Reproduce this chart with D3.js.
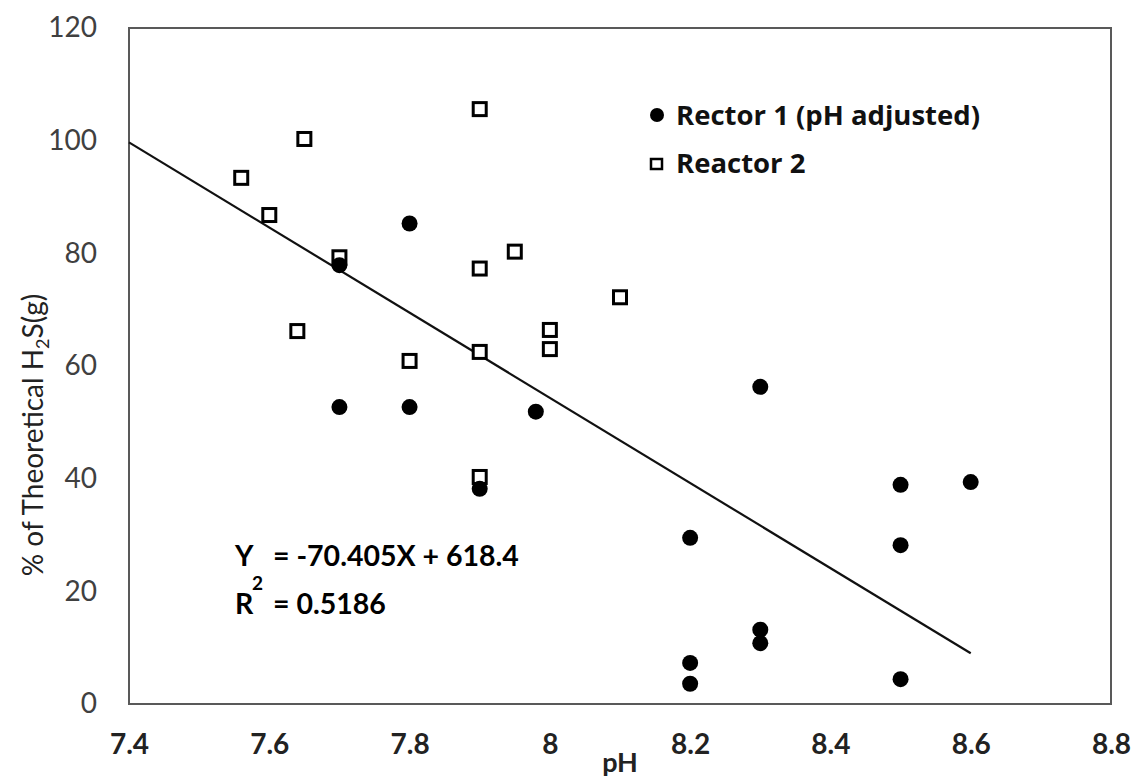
<!DOCTYPE html>
<html>
<head>
<meta charset="utf-8">
<script src="https://cdn.jsdelivr.net/npm/d3@7"></script>
<style>
  body { margin: 0; background: #fff; }
  svg { display: block; font-family: Lato, "Open Sans", sans-serif; }
</style>
</head>
<body>
<div id="chart"></div>
<script>
// data
const r1X = [7.7, 7.8, 7.7, 7.8, 7.98, 7.9, 8.3, 8.5, 8.6, 8.2, 8.5, 8.3, 8.3, 8.2, 8.2, 8.5]
const r1Y = [77.9, 85.3, 52.7, 52.7, 51.9, 38.2, 56.3, 38.9, 39.4, 29.5, 28.2, 13.2, 10.8, 7.3, 3.6, 4.4]
const r2X = [7.56, 7.6, 7.65, 7.7, 7.64, 7.8, 7.9, 7.9, 7.9, 7.9, 7.95, 8.0, 8.0, 8.1]
const r2Y = [93.4, 86.8, 100.3, 79.3, 66.2, 60.9, 105.6, 77.3, 62.5, 40.3, 80.3, 66.4, 63.0, 72.2]
const trendX = [7.4, 8.6]
const trendY = [99.7, 9.0]
const xTicks = [7.4, 7.6, 7.8, 8, 8.2, 8.4, 8.6, 8.8]
const xTickLabels = ["7.4", "7.6", "7.8", "8", "8.2", "8.4", "8.6", "8.8"]
const yTicks = [0, 20, 40, 60, 80, 100, 120]
const seriesNames = ["Rector 1 (pH adjusted)", "Reactor 2"]

const width = 1135
const height = 778
const margin = {top: 28, right: 24, bottom: 74, left: 129}
const w = width - margin.left - margin.right
const h = height - margin.top - margin.bottom

const svg = d3.select("div#chart").append("svg").attr("width", width).attr("height", height)
const g = svg.append("g").attr("transform", `translate(${margin.left}, ${margin.top})`)

const x = d3.scaleLinear().domain([7.4, 8.8]).range([0, w])
const y = d3.scaleLinear().domain([0, 120]).range([h, 0])

// axes (no tick marks, labels only)
const yAxis = d3.axisLeft(y).tickValues(yTicks).tickSize(0).tickPadding(32)
const yAxisGroup = g.append("g").call(yAxis)
yAxisGroup.select(".domain").remove()
yAxisGroup.selectAll("text").attr("font-size", 28).attr("fill", "#404040").attr("font-family", "Lato")

const xAxis = d3.axisBottom(x).tickValues(xTicks).tickFormat((d, i) => xTickLabels[i]).tickSize(0).tickPadding(30)
const xAxisGroup = g.append("g").attr("transform", `translate(0, ${h})`).call(xAxis)
xAxisGroup.select(".domain").remove()
xAxisGroup.selectAll("text").attr("font-size", 28).attr("font-weight", "bold").attr("fill", "#222").attr("font-family", "Lato")

// frame
g.append("rect").attr("width", w).attr("height", h)
  .attr("fill", "none").attr("stroke", "#595959").attr("stroke-width", 2)

// axis titles
svg.append("text")
  .attr("x", margin.left + w / 2).attr("y", 772)
  .attr("text-anchor", "middle").attr("font-size", 27).attr("font-weight", "bold").attr("fill", "#222")
  .text("pH")

const yTitle = svg.append("text")
  .attr("transform", "translate(43, 435) rotate(-90)")
  .attr("text-anchor", "middle").attr("font-size", 28).attr("fill", "#222")
yTitle.append("tspan").text("% of Theoretical H")
yTitle.append("tspan").attr("font-size", 18).attr("dy", 6).text("2")
yTitle.append("tspan").attr("dy", -6).text("S(g)")

// trend line
const line = d3.line().x(d => x(d[0])).y(d => y(d[1]))
g.append("path").datum(d3.zip(trendX, trendY)).attr("d", line)
  .attr("fill", "none").attr("stroke", "#111").attr("stroke-width", 2.2)

// Reactor 2: open squares
const sq = 13
g.append("g").selectAll("rect").data(d3.zip(r2X, r2Y)).join("rect")
  .attr("x", d => x(d[0]) - sq / 2).attr("y", d => y(d[1]) - sq / 2)
  .attr("width", sq).attr("height", sq)
  .attr("fill", "#fff").attr("stroke", "#000").attr("stroke-width", 3)

// Reactor 1: filled circles
g.append("g").selectAll("circle").data(d3.zip(r1X, r1Y)).join("circle")
  .attr("cx", d => x(d[0])).attr("cy", d => y(d[1])).attr("r", 8)
  .attr("fill", "#000")

// legend
const legend = svg.append("g").attr("font-weight", "bold").attr("font-size", 27.5)
  .attr("font-family", "'Open Sans', Lato, sans-serif").attr("fill", "#111")
legend.append("circle").attr("cx", 657).attr("cy", 115).attr("r", 7).attr("fill", "#000")
legend.append("text").attr("x", 676).attr("y", 125).text(seriesNames[0])
legend.append("rect").attr("x", 651).attr("y", 159).attr("width", 11).attr("height", 10)
  .attr("fill", "#fff").attr("stroke", "#000").attr("stroke-width", 2.5)
legend.append("text").attr("x", 676).attr("y", 173).text(seriesNames[1])

// equation
const eq = svg.append("g").attr("font-weight", "bold").attr("font-size", 28.5).attr("fill", "#000")
eq.append("text").attr("x", 235).attr("y", 566).text("Y")
eq.append("text").attr("x", 273).attr("y", 566).text("= -70.405X + 618.4")
eq.append("text").attr("x", 235).attr("y", 614).text("R")
eq.append("text").attr("x", 252).attr("y", 590).attr("font-size", 19).text("2")
eq.append("text").attr("x", 273).attr("y", 614).text("= 0.5186")
</script>
</body>
</html>
